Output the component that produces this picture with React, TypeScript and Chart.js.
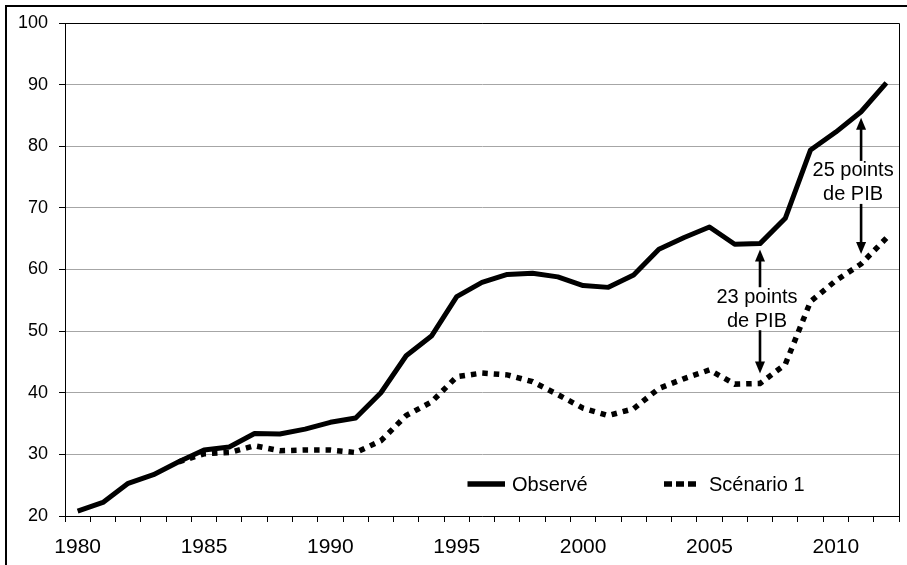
import React, { useEffect, useRef } from "react";
import { Chart, registerables } from "chart.js";

Chart.register(...registerables);

// ---- Data ----
const years = [
  1980, 1981, 1982, 1983, 1984, 1985, 1986, 1987, 1988, 1989, 1990,
  1991, 1992, 1993, 1994, 1995, 1996, 1997, 1998, 1999, 2000, 2001,
  2002, 2003, 2004, 2005, 2006, 2007, 2008, 2009, 2010, 2011, 2012,
];
const shownYears = [1980, 1985, 1990, 1995, 2000, 2005, 2010];

const observe = [
  20.8, 22.2, 25.3, 26.7, 28.8, 30.7, 31.2, 33.4, 33.3, 34.1, 35.2,
  35.9, 40.0, 46.0, 49.2, 55.6, 57.9, 59.2, 59.4, 58.8, 57.4, 57.1,
  59.1, 63.3, 65.2, 66.9, 64.1, 64.2, 68.3, 79.4, 82.3, 85.6, 90.3,
];
const scenario1 = [
  null, null, null, null, 28.8, 30.1, 30.3, 31.4, 30.6, 30.7, 30.7,
  30.3, 32.2, 36.3, 38.5, 42.6, 43.2, 42.9, 41.8, 39.7, 37.5, 36.3,
  37.4, 40.7, 42.3, 43.7, 41.4, 41.5, 44.6, 54.8, 58.2, 60.9, 65.1,
];

const seriesNames = ["Observé", "Scénario 1"];

const annoYears = [2007, 2011];
const annoLine1 = ["23 points", "25 points"];
const annoLine2 = ["de PIB", "de PIB"];
const annoTextValue = [55.5, 76.0];

const FONT = "'Liberation Sans', Arial, sans-serif";

function drawArrow(ctx: CanvasRenderingContext2D, x: number, yFrom: number, yTip: number) {
  const dir = yTip > yFrom ? 1 : -1;
  const headLen = 12;
  const headW = 5;
  ctx.save();
  ctx.strokeStyle = "#000";
  ctx.fillStyle = "#000";
  ctx.lineWidth = 2.6;
  ctx.beginPath();
  ctx.moveTo(x, yFrom);
  ctx.lineTo(x, yTip - dir * (headLen - 1));
  ctx.stroke();
  ctx.beginPath();
  ctx.moveTo(x, yTip);
  ctx.lineTo(x - headW, yTip - dir * headLen);
  ctx.lineTo(x + headW, yTip - dir * headLen);
  ctx.closePath();
  ctx.fill();
  ctx.restore();
}

const decorPlugin = {
  id: "decor",
  beforeDraw(chart: any) {
    const ctx = chart.ctx as CanvasRenderingContext2D;
    ctx.save();
    ctx.fillStyle = "#fff";
    ctx.fillRect(0, 0, chart.width, chart.height);
    ctx.fillStyle = "#000";
    ctx.fillRect(5, 5, chart.width - 5, 2);
    ctx.fillRect(5, 5, 2, chart.height - 5);
    ctx.restore();
  },
  afterDraw(chart: any) {
    const ctx = chart.ctx as CanvasRenderingContext2D;
    const area = chart.chartArea;
    const xs = chart.scales.x;
    const ys = chart.scales.y;
    ctx.save();
    // plot box top/right
    ctx.strokeStyle = "#000";
    ctx.lineWidth = 1;
    ctx.beginPath();
    ctx.moveTo(area.left, Math.round(area.top) + 0.5);
    ctx.lineTo(Math.round(area.right) + 0.5, Math.round(area.top) + 0.5);
    ctx.lineTo(Math.round(area.right) + 0.5, area.bottom);
    ctx.stroke();

    // legend
    const ly = area.bottom - 32;
    ctx.lineWidth = 5.5;
    ctx.lineCap = "butt";
    ctx.beginPath();
    ctx.moveTo(467.5, ly);
    ctx.lineTo(505, ly);
    ctx.stroke();
    ctx.setLineDash([8, 4]);
    ctx.beginPath();
    ctx.moveTo(664, ly);
    ctx.lineTo(696, ly);
    ctx.stroke();
    ctx.setLineDash([]);
    ctx.fillStyle = "#000";
    ctx.font = `20px ${FONT}`;
    ctx.textAlign = "left";
    ctx.textBaseline = "middle";
    ctx.fillText(seriesNames[0], 512, ly + 1);
    ctx.fillText(seriesNames[1], 709, ly + 1);

    // annotations
    const textOffsets = [-3, -8];
    annoYears.forEach((yr, i) => {
      const idx = years.indexOf(yr);
      const x = xs.getPixelForValue(idx);
      const yObs = ys.getPixelForValue(observe[idx]);
      const ySc = ys.getPixelForValue(scenario1[idx] as number);
      const t = ys.getPixelForValue(annoTextValue[i]);
      ctx.font = `20px ${FONT}`;
      ctx.textAlign = "center";
      ctx.textBaseline = "middle";
      ctx.fillText(annoLine1[i], x + textOffsets[i], t);
      ctx.fillText(annoLine2[i], x + textOffsets[i], t + 24);
      drawArrow(ctx, x, t - 10, yObs + 6);
      drawArrow(ctx, x, t + 33, ySc - 10);
    });
    ctx.restore();
  },
};

export default function App() {
  const ref = useRef<HTMLCanvasElement | null>(null);
  useEffect(() => {
    document.body.style.margin = "0";
    if (!ref.current) return;
    Chart.defaults.font.family = FONT;
    const chart = new Chart(ref.current, {
      type: "line",
      data: {
        labels: years.map(String),
        datasets: [
          {
            label: seriesNames[0],
            data: observe,
            borderColor: "#000",
            borderWidth: 5,
            pointRadius: 0,
            tension: 0,
            borderJoinStyle: "round",
            borderCapStyle: "butt",
            fill: false,
          },
          {
            label: seriesNames[1],
            data: scenario1,
            borderColor: "#000",
            borderWidth: 5.5,
            borderDash: [5.5, 6],
            pointRadius: 0,
            tension: 0,
            borderCapStyle: "butt",
            fill: false,
          },
        ],
      },
      options: {
        animation: false,
        responsive: false,
        devicePixelRatio: 1,
        layout: { padding: { top: 23, right: 8, left: 0, bottom: 0 } },
        plugins: {
          legend: { display: false },
          tooltip: { enabled: false },
          title: { display: false },
        },
        scales: {
          x: {
            type: "category",
            offset: true,
            grid: {
              display: true,
              drawOnChartArea: false,
              drawTicks: true,
              tickLength: 6,
              color: "#000",
              tickColor: "#000",
              offset: true,
            },
            border: { color: "#000", width: 1 },
            ticks: {
              autoSkip: false,
              maxRotation: 0,
              color: "#000",
              padding: 13,
              font: { size: 21, family: FONT },
              callback: (_v: any, i: number) =>
                shownYears.includes(years[i]) ? String(years[i]) : "",
            },
            afterFit: (s: any) => {
              s.height = 49;
            },
          },
          y: {
            min: 20,
            max: 100,
            grid: {
              color: "#a6a6a6",
              tickColor: "#000",
              tickLength: 6,
              lineWidth: 1,
            },
            border: { color: "#000", width: 1 },
            ticks: {
              stepSize: 10,
              color: "#000",
              padding: 11,
              font: { size: 18, family: FONT },
            },
            afterFit: (s: any) => {
              s.width = 65;
            },
          },
        },
      },
      plugins: [decorPlugin],
    } as any);
    return () => chart.destroy();
  }, []);
  return (
    <div style={{ width: 907, height: 565 }}>
      <canvas ref={ref} width={907} height={565} style={{ display: "block" }} />
    </div>
  );
}
